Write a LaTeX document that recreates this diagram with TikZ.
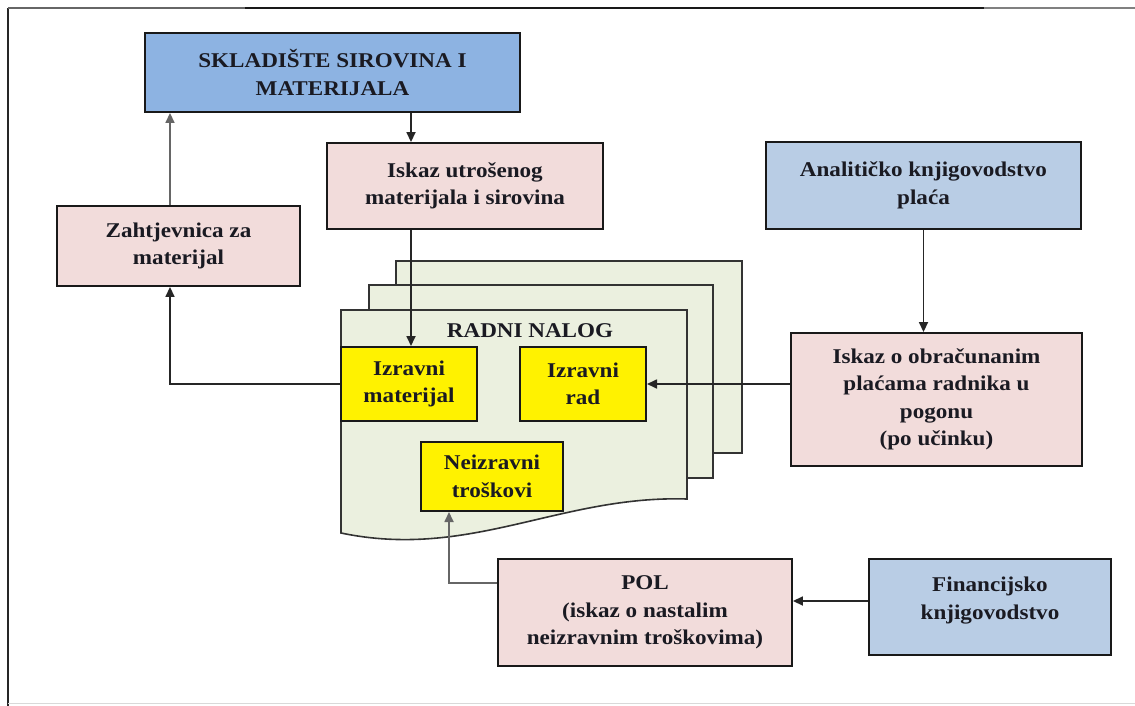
\documentclass[tikz,border=0pt]{standalone}
\usepackage{fontspec}
\setmainfont{Liberation Serif}[FakeStretch=1.1]
\usetikzlibrary{arrows.meta}
\definecolor{bluedark}{HTML}{8DB3E2}
\definecolor{bluelight}{HTML}{B9CDE5}
\definecolor{pinkfill}{HTML}{F2DCDB}
\definecolor{sheetfill}{HTML}{EBF0DF}
\definecolor{txt}{HTML}{1A1A22}
\tikzset{
  box/.style={draw=black!90, line width=1.9pt, inner sep=0pt, align=center,
    text=txt, font=\bfseries\fontsize{21}{27.5}\selectfont},
  darkblue/.style={box, fill=bluedark},
  lightblue/.style={box, fill=bluelight},
  pinkbox/.style={box, fill=pinkfill},
  yellowbox/.style={box, fill=yellow, line width=2pt},
  sheet/.style={draw=black!80, line width=1.6pt, fill=sheetfill},
  arr/.style={line width=1.7pt, draw=black!85, -{Triangle[length=10pt,width=9pt]}},
  grayarr/.style={arr, draw=black!60},
}
\begin{document}
\begin{tikzpicture}[x=1pt,y=-1pt]
\useasboundingbox (0,0) rectangle (1135,706);
% frame
\draw[line width=2pt, black!85] (8,8) -- (8,706);
\draw[line width=2pt, black!60] (8,8) -- (245,8);
\draw[line width=2pt, black!90] (245,8) -- (984,8);
\draw[line width=1.5pt, black!50] (984,8) -- (1135,8);
\draw[line width=1pt, black!15] (8,703) -- (1135,703);

% document stack
\draw[sheet] (396,261) rectangle (742,453);
\draw[sheet] (369,285) rectangle (713,478);
\draw[sheet] (341,310) -- (687,310) -- (687,499)
   .. controls (560,495) and (470,560) .. (341,533) -- cycle;
\node[font=\bfseries\fontsize{21}{27.5}\selectfont, text=txt] (radni) at (530,331) {RADNI NALOG};

% boxes
\node[darkblue, minimum width=375pt, minimum height=79pt] (sklad) at (332.5,72.5) {SKLADIŠTE SIROVINA I\\MATERIJALA};
\node[pinkbox, minimum width=276pt, minimum height=86pt] (iskazmat) at (465,186) {Iskaz utrošenog\\materijala i sirovina};
\node[pinkbox, minimum width=243pt, minimum height=80pt] (zaht) at (178.5,246) {Zahtjevnica za\\materijal};
\node[lightblue, minimum width=315pt, minimum height=87pt] (anal) at (923.5,185.5) {Analitičko knjigovodstvo\\plaća};
\node[pinkbox, minimum width=291pt, minimum height=133pt] (obrac) at (936.5,399.5) {Iskaz o obračunanim\\plaćama radnika u\\pogonu\\(po učinku)};
\node[pinkbox, minimum width=294pt, minimum height=107pt] (pol) at (645,612.5) {POL\\(iskaz o nastalim\\neizravnim troškovima)};
\node[lightblue, minimum width=242pt, minimum height=96pt] (fin) at (990,607) {Financijsko\\knjigovodstvo\\[-10pt]};
\node[yellowbox, minimum width=136pt, minimum height=74pt] (izmat) at (409,384) {Izravni\\materijal};
\node[yellowbox, minimum width=126pt, minimum height=74pt] (izrad) at (583,384) {Izravni\\rad};
\node[yellowbox, minimum width=142pt, minimum height=69pt] (neizr) at (492,476.5) {Neizravni\\troškovi};

% helper coordinates
\coordinate (x170) at (170,0);
\coordinate (x411) at (411,0);
\coordinate (k449) at (449,583);
\coordinate (y601) at (0,601);

% connectors
\draw[grayarr] (zaht.north -| x170) -- (sklad.south -| x170);
\draw[arr] (sklad.south -| x411) -- (iskazmat.north -| x411);
\draw[arr] (iskazmat.south -| x411) -- (izmat.north -| x411);
\draw[arr] (izmat.west) -- (izmat.west -| x170) -- (zaht.south -| x170);
\draw[arr] (anal.south) -- (anal.south |- obrac.north);
\draw[arr] (obrac.west |- izrad.east) -- (izrad.east);
\draw[grayarr] (pol.west |- k449) -- (k449) -- (neizr.south -| k449);
\draw[arr] (fin.west |- y601) -- (pol.east |- y601);
\end{tikzpicture}
\end{document}
